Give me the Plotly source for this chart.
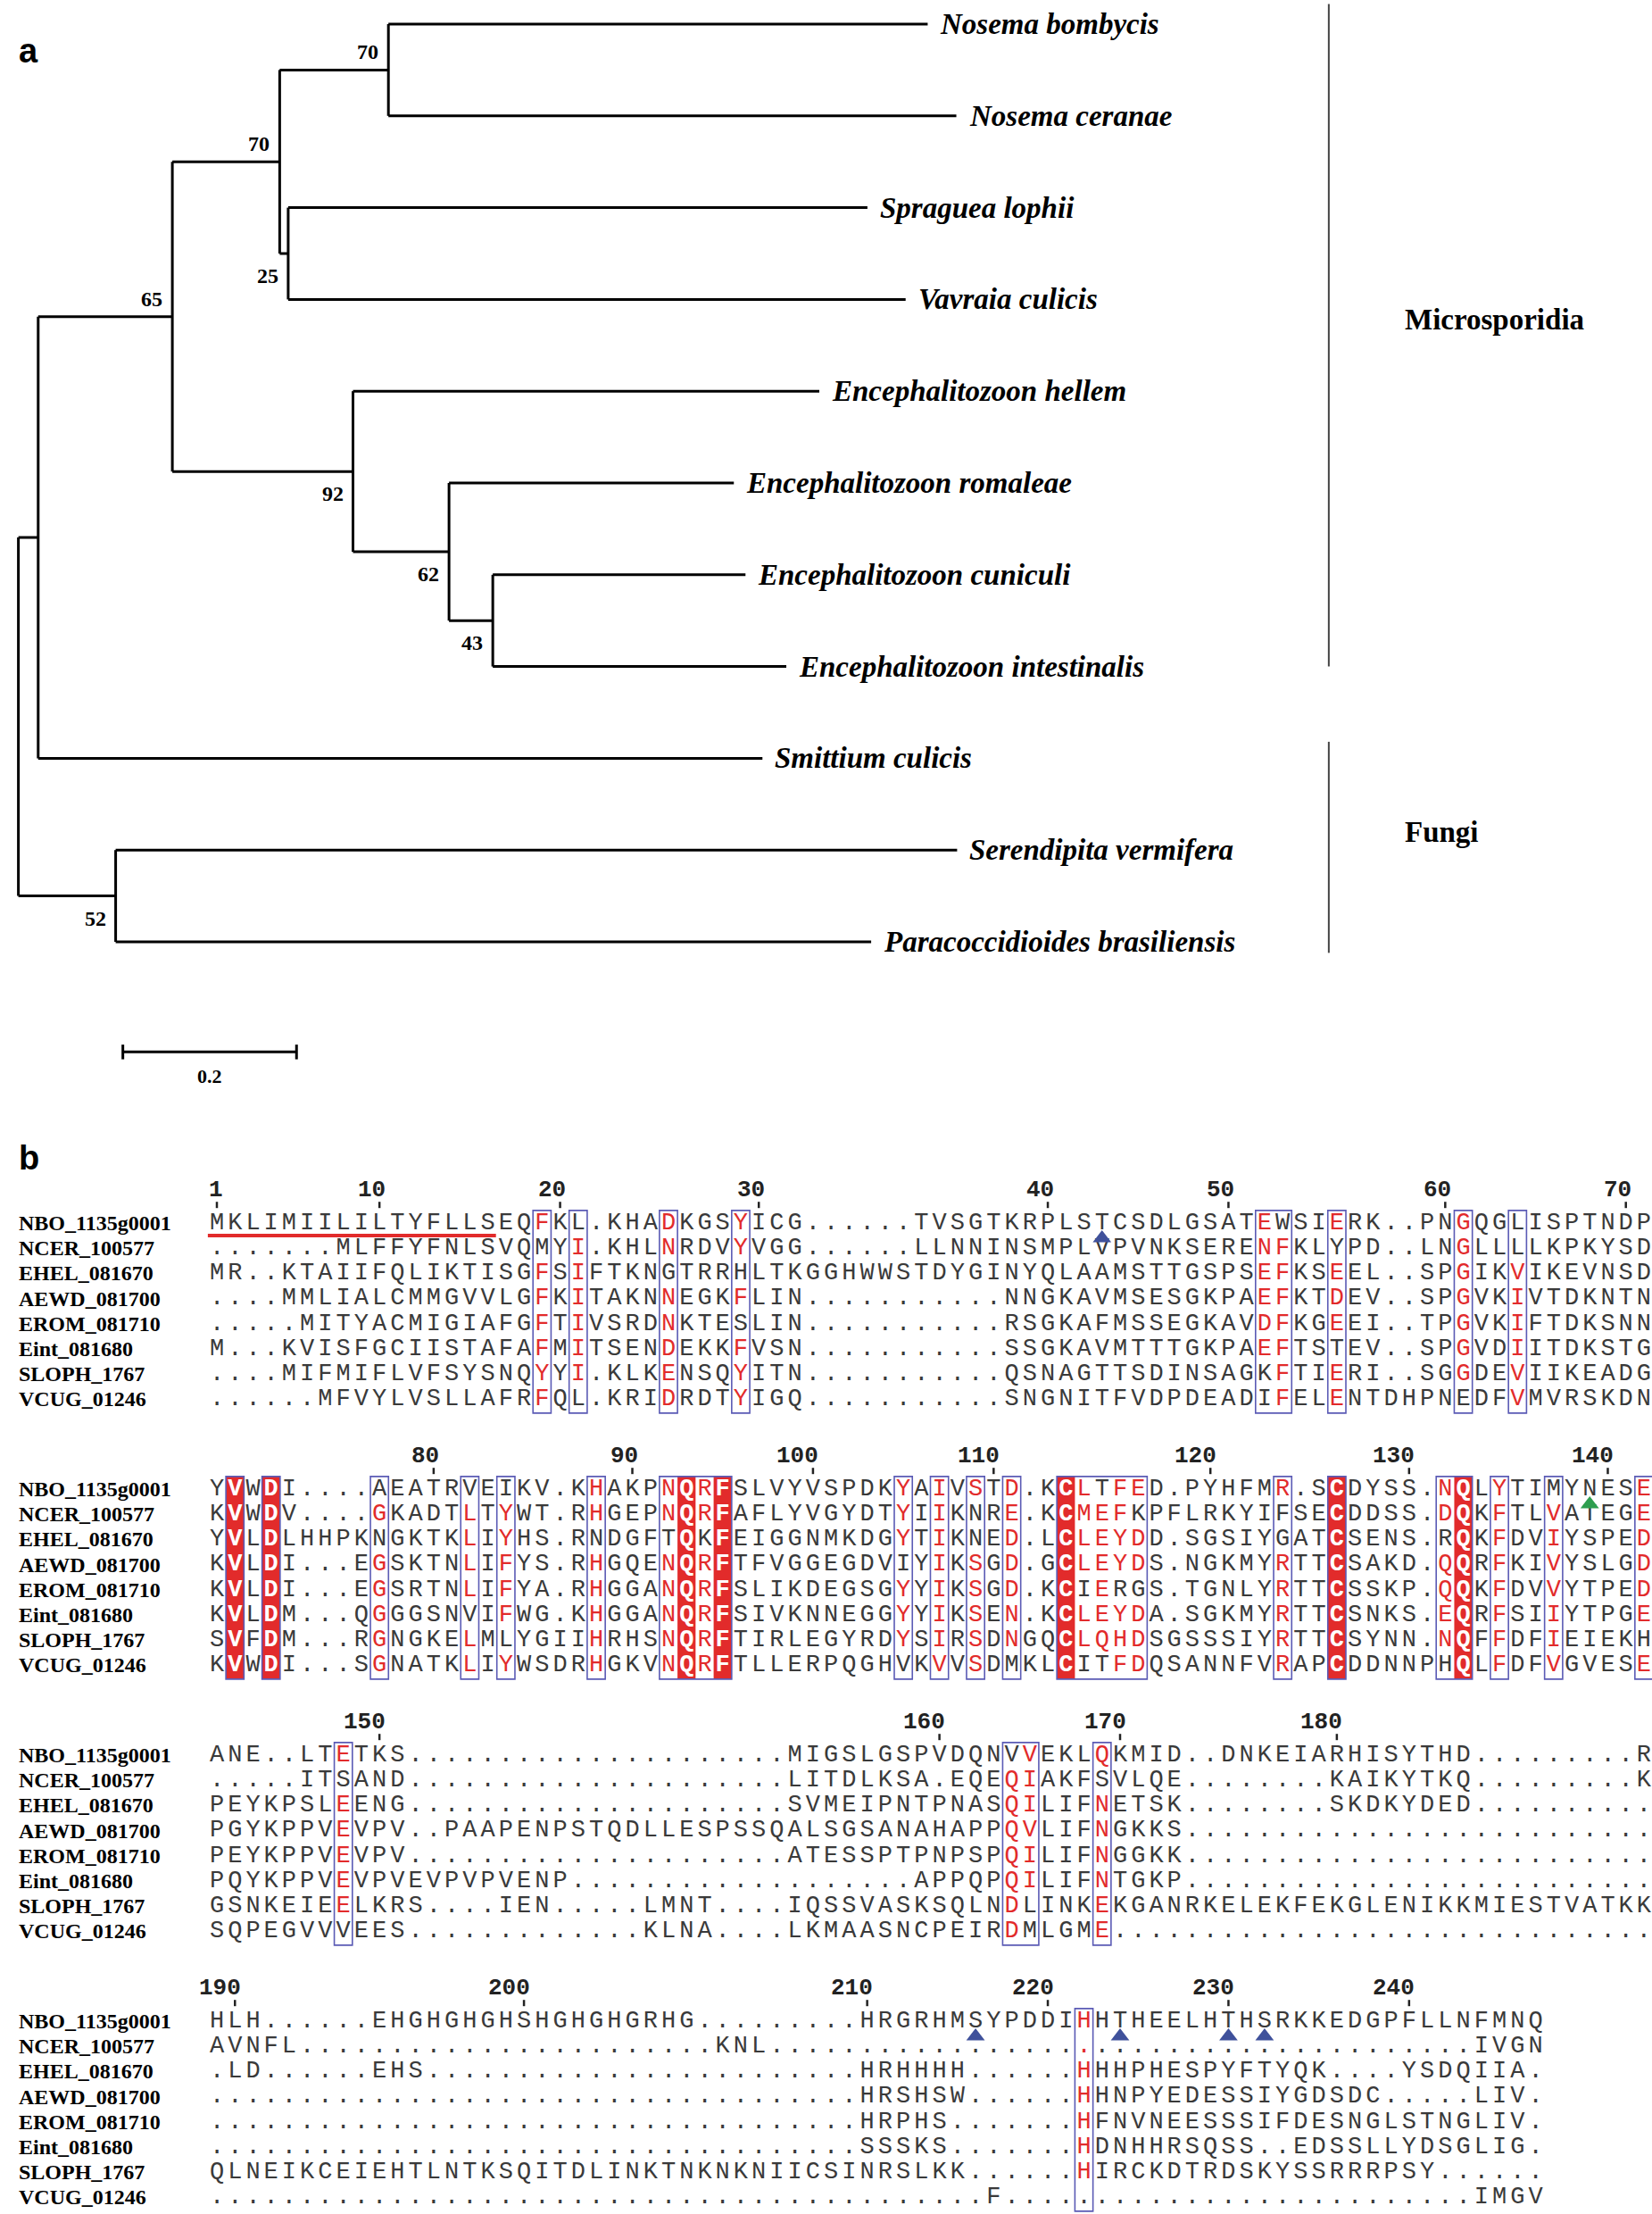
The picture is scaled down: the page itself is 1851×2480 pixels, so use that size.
import plotly.graph_objects as go

# ================= Panel a : phylogenetic tree (data) =================
NODE_IDS = ["root", "A", "micro", "upper", "nosema", "Nosema bombycis", "Nosema ceranae", "sv",
            "Spraguea lophii", "Vavraia culicis", "enc", "Encephalitozoon hellem", "n62",
            "Encephalitozoon romaleae", "n43", "Encephalitozoon cuniculi",
            "Encephalitozoon intestinalis", "Smittium culicis", "fungi",
            "Serendipita vermifera", "Paracoccidioides brasiliensis"]
NODE_PARENTS = [None, "root", "A", "micro", "upper", "nosema", "nosema", "upper", "sv", "sv",
                "micro", "enc", "enc", "n62", "n62", "n43", "n43", "A", "root", "fungi", "fungi"]
BRANCH_LENGTHS = [0.0, 0.0228, 0.1545, 0.1236, 0.1252, 0.621, 0.654, 0.0098, 0.667, 0.711,
                  0.208, 0.537, 0.1106, 0.328, 0.0504, 0.291, 0.338, 0.834, 0.112, 0.969, 0.870]
BOOTSTRAP = [None, None, 65, 70, 70, None, None, 25, None, None, 92, None, 62, None, 43,
             None, None, None, 52, None, None]
BOOT_ABOVE = [False, False, True, True, True, False, False, False, False, False, False, False,
              False, False, False, False, False, False, False, False, False]
LEAF_ORDER = ["Nosema bombycis", "Nosema ceranae", "Spraguea lophii", "Vavraia culicis",
              "Encephalitozoon hellem", "Encephalitozoon romaleae", "Encephalitozoon cuniculi",
              "Encephalitozoon intestinalis", "Smittium culicis", "Serendipita vermifera",
              "Paracoccidioides brasiliensis"]
CLADE_NAMES = ["Microsporidia", "Fungi"]
CLADE_TOP = [-0.22, 7.82]
CLADE_BOTTOM = [7.0, 10.12]
CLADE_X = 1.509
SCALE_LENGTH = 0.2
SCALE_LABEL = "0.2"

# ================= Panel b : alignment (data) =================
SEQ_NAMES = ["NBO_1135g0001", "NCER_100577", "EHEL_081670", "AEWD_081700",
             "EROM_081710", "Eint_081680", "SLOPH_1767", "VCUG_01246"]

BLOCK1 = [
    "MKLIMIILILTYFLLSEQFKL.KHADKGSYICG......TVSGTKRPLSTCSDLGSATEWSIERK..PNGQGLISPTNDP",
    ".......MLFFYFNLSVQMYI.KHLNRDVYVGG......LLNNINSMPLVPVNKSERENFKLYPD..LNGLLLLKPKYSD",
    "MR..KTAIIFQLIKTISGFSIFTKNGTRRHLTKGGHWWSTDYGINYQLAAMSTTGSPSEFKSEEL..SPGIKVIKEVNSD",
    "....MMLIALCMMGVVLGFKITAKNNEGKFLIN...........NNGKAVMSESGKPAEFKTDEV..SPGVKIVTDKNTN",
    ".....MITYACMIGIAFGFTIVSRDNKTESLIN...........RSGKAFMSSEGKAVDFKGEEI..TPGVKIFTDKSNN",
    "M...KVISFGCIISTAFAFMITSENDEKKFVSN...........SSGKAVMTTTGKPAEFTSTEV..SPGVDIITDKSTG",
    "....MIFMIFLVFSYSNQYYI.KLKENSQYITN...........QSNAGTTSDINSAGKFTIERI..SGGDEVIIKEADG",
    "......MFVYLVSLLAFRFQL.KRIDRDTYIGQ...........SNGNITFVDPDEADIFELENTDHPNEDFVMVRSKDN",
]
BLOCK2 = [
    "YVWDI....AEATRVEIKV.KHAKPNQRFSLVYVSPDKYAIVSTD.KCLTFED.PYHFMR.SCDYSS.NQLYTIMYNESE",
    "KVWDV....GKADTLTYWT.RHGEPNQRFAFLYVGYDTYIIKNRE.KCMEFKPFLRKYIFSECDDSS.DQKFTLVATEGE",
    "YVLDLHHPKNGKTKLIYHS.RNDGFTQKFEIGGNMKDGYTIKNED.LCLEYDD.SGSIYGATCSENS.RQKFDVIYSPED",
    "KVLDI...EGSKTNLIFYS.RHGQENQRFTFVGGEGDVIYIKSGD.GCLEYDS.NGKMYRTTCSAKD.QQRFKIVYSLGD",
    "KVLDI...EGSRTNLIFYA.RHGGANQRFSLIKDEGSGYYIKSGD.KCIERGS.TGNLYRTTCSSKP.QQKFDVVYTPED",
    "KVLDM...QGGGSNVIFWG.KHGGANQRFSIVKNNEGGYYIKSEN.KCLEYDA.SGKMYRTTCSNKS.EQRFSIIYTPGE",
    "SVFDM...RGNGKELMLYGIIHRHSNQRFTIRLEGYRDYSIRSDNGQCLQHDSGSSSIYRTTCSYNN.NQFFDFIEIEKH",
    "KVWDI...SGNATKLIYWSDRHGKVNQRFTLLERPQGHVKVVSDMKLCITFDQSANNFVRAPCDDNNPHQLFDFVGVESE",
]
BLOCK3 = [
    "ANE..LTETKS" + "." * 21 + "MIGSLGSPVDQNVVEKLQKMID..DNKEIARHISYTHD" + "." * 9 + "R",
    ".....ITSAND" + "." * 21 + "LITDLKSA.EQEQIAKFSVLQE" + "." * 8 + "KAIKYTKQ" + "." * 9 + "K",
    "PEYKPSLEENG" + "." * 21 + "SVMEIPNTPNASQILIFNETSK" + "." * 8 + "SKDKYDED" + "." * 10,
    "PGYKPPVEVPV..PAAPENPSTQDLLESPSSQALSGSANAHAPPQVLIFNGKKS" + "." * 26,
    "PEYKPPVEVPV" + "." * 21 + "ATESSPTPNPSPQILIFNGGKK" + "." * 26,
    "PQYKPPVEVPVEVPVPVENP" + "." * 19 + "APPQPQILIFNTGKP" + "." * 26,
    "GSNKEIEELKRS....IEN.....LMNT....IQSSVASKSQLNDLINKEKGANRKELEKFEKGLENIKKMIESTVATKK",
    "SQPEGVVVEES" + "." * 13 + "KLNA....LKMAASNCPEIRDMLGME" + "." * 30,
]
BLOCK4 = [
    "HLH......EHGHGHGHSHGHGHGRHG.........HRGRHMSYPDDIHHTHEELHTHSRKKEDGPFLLNFMNQ",
    "AVNFL" + "." * 23 + "KNL" + "." * 39 + "IVGN",
    ".LD......EHS" + "." * 24 + "HRHHHH......HHHPHESPYFTYQK....YSDQIIA.",
    "." * 36 + "HRSHSW......HHNPYEDESSIYGDSDC.....LIV.",
    "." * 36 + "HRPHS.......HFNVNEESSSIFDESNGLSTNGLIV.",
    "." * 36 + "SSSKS.......HDNHHRSQSS..EDSSLLYDSGLIG.",
    "QLNEIKCEIEHTLNTKSQITDLINKTNKNKNIICSINRSLKK......HIRCKDTRDSKYSSRRRPSY......",
    "." * 43 + "F" + "." * 26 + "IMGV",
]
BLOCKS = [BLOCK1, BLOCK2, BLOCK3, BLOCK4]

RULER_LABELS = [[1, 10, 20, 30, 40, 50, 60, 70],
                [80, 90, 100, 110, 120, 130, 140],
                [150, 160, 170, 180],
                [190, 200, 210, 220, 230, 240]]
RULER_COLS = [[1, 10, 20, 31, 47, 57, 69, 79],
              [13, 24, 34, 44, 56, 67, 78],
              [10, 41, 51, 63],
              [2, 18, 37, 47, 57, 67]]

# framed (similarity) column groups, per block
BOXES = [
    [(19, 19), (21, 21), (26, 26), (30, 30), (59, 60), (63, 63), (70, 70), (73, 73)],
    [(2, 2), (4, 4), (10, 10), (15, 15), (17, 17), (22, 22), (26, 29), (39, 39), (41, 41),
     (43, 43), (45, 45), (48, 52), (60, 60), (63, 63), (69, 70), (72, 72), (75, 75), (80, 80)],
    [(8, 8), (45, 46), (50, 50)],
    [(49, 49)],
]
# strictly conserved columns (red background, white letters)
IDENTICAL = [[], [2, 4, 27, 29, 48, 63, 70], [], []]
# similar residues written in red: column -> flags for the 8 sequences
SIMILAR = [
    {19: "10111111", 21: "01111110", 26: "11011111", 30: "11010111", 59: "11111100",
     60: "01111111", 63: "10111011", 70: "11111110", 73: "00111111"},
    {10: "01011111", 15: "01111011", 17: "01111101", 22: "11011111", 26: "11011111",
     28: "11011111", 39: "11101110", 41: "11111111", 43: "10011111", 45: "11111110",
     49: "11110110", 50: "01111110", 51: "11110111", 52: "10110111", 60: "10011111",
     69: "11011110", 72: "11111111", 75: "01111111", 80: "11111101"},
    {8: "10111110", 45: "01111111", 46: "11111100", 50: "10111111"},
    {49: "11111110"},
]
# signal peptide (underlined) : block, first col, last col
SIGNAL_BLOCK, SIGNAL_START, SIGNAL_END = 0, 1, 16
# site markers below NBO
MARK_BLOCK = [0, 1, 3, 3, 3, 3]
MARK_COL = [50, 77, 43, 51, 57, 59]
MARK_KIND = ["blue", "green", "blue", "blue", "blue", "blue"]

# ================= geometry / style =================
W, H = 1851, 2480
TREE_SPLIT = 1240                  # pixel row separating the two panels
TREE_ROOT_PX, TREE_UNIT_PX = 20.6, 973.0
LEAF0_PX, LEAF_STEP_PX = 27.0, 102.8
COL1_PX, COL_PX = 243.0, 20.24
ROW0_PX, ROW_PX = 1370.0, 28.2
BLOCK_PERIOD = 298.0 / ROW_PX

RED = "#e22b2b"
TEXT = "#3a3a3a"
BOXC = "#5b5bb5"
MARK_COLORS = {"blue": "#3f519b", "green": "#2e9e4f"}
SERIF = "Liberation Serif, Times New Roman, serif"
MONO = "Liberation Mono, Courier New, monospace"
SEQ_FONT_SIZE = 27

fig = go.Figure()

# ---------- tree computation ----------
parent = dict(zip(NODE_IDS, NODE_PARENTS))
blen = dict(zip(NODE_IDS, BRANCH_LENGTHS))
children = {n: [] for n in NODE_IDS}
for n, p in zip(NODE_IDS, NODE_PARENTS):
    if p is not None:
        children[p].append(n)
xpos = {}
for n in NODE_IDS:
    xpos[n] = (xpos[parent[n]] if parent[n] else 0.0) + blen[n]
ypos = {}


def node_y(n):
    if n in ypos:
        return ypos[n]
    if not children[n]:
        ypos[n] = float(LEAF_ORDER.index(n))
    else:
        ys = [node_y(c) for c in children[n]]
        ypos[n] = (min(ys) + max(ys)) / 2.0
    return ypos[n]


for n in NODE_IDS:
    node_y(n)

lx, ly = [], []
for n in NODE_IDS:
    p = parent[n]
    if p is not None:
        lx += [xpos[p], xpos[n], None]
        ly += [ypos[n], ypos[n], None]
    if children[n]:
        cy = [ypos[c] for c in children[n]]
        lx += [xpos[n], xpos[n], None]
        ly += [min(cy), max(cy), None]
fig.add_trace(go.Scatter(x=lx, y=ly, mode="lines", line=dict(color="black", width=3),
                         hoverinfo="skip", xaxis="x", yaxis="y"))

annotations = []
for n in NODE_IDS:
    if not children[n]:
        annotations.append(dict(x=xpos[n], y=ypos[n], xref="x", yref="y", text=n,
                                showarrow=False, xanchor="left", yanchor="middle", xshift=12,
                                font=dict(family=SERIF, size=33, color="black",
                                          style="italic", weight="bold")))
for n, bs, above in zip(NODE_IDS, BOOTSTRAP, BOOT_ABOVE):
    if bs is None:
        continue
    annotations.append(dict(x=xpos[n], y=ypos[n], xref="x", yref="y", text=str(bs),
                            showarrow=False, xanchor="right", yanchor="middle", xshift=-9,
                            yshift=20 if above else -25,
                            font=dict(family=SERIF, size=24, color="black", weight="bold")))

# clade brackets
bx, by = [], []
for top, bot in zip(CLADE_TOP, CLADE_BOTTOM):
    bx += [CLADE_X, CLADE_X, None]
    by += [top, bot, None]
fig.add_trace(go.Scatter(x=bx, y=by, mode="lines", line=dict(color="#444444", width=2),
                         hoverinfo="skip", xaxis="x", yaxis="y"))
for name, top, bot in zip(CLADE_NAMES, CLADE_TOP, CLADE_BOTTOM):
    annotations.append(dict(x=CLADE_X, y=(top + bot) / 2, xref="x", yref="y", text=name,
                            showarrow=False, xanchor="left", yanchor="middle", xshift=83,
                            yshift=17,
                            font=dict(family=SERIF, size=33, color="black", weight="bold")))

# scale bar
sx0, sy = 0.1203, 11.2
fig.add_trace(go.Scatter(
    x=[sx0, sx0 + SCALE_LENGTH, None, sx0, sx0, None, sx0 + SCALE_LENGTH, sx0 + SCALE_LENGTH],
    y=[sy, sy, None, sy - 0.08, sy + 0.08, None, sy - 0.08, sy + 0.08],
    mode="lines", line=dict(color="black", width=3), hoverinfo="skip", xaxis="x", yaxis="y"))
annotations.append(dict(x=sx0 + SCALE_LENGTH / 2, y=sy, xref="x", yref="y", text=SCALE_LABEL,
                        showarrow=False, yshift=-27,
                        font=dict(family=SERIF, size=22, color="black", weight="bold")))

# ---------- alignment ----------
shapes = []
groups = {"normal": ([], [], []), "red": ([], [], []), "white": ([], [], [])}
for b, rows in enumerate(BLOCKS):
    base = b * BLOCK_PERIOD
    nrow = len(rows)
    for r, seq in enumerate(rows):
        for i, ch in enumerate(seq):
            col = i + 1
            if col in IDENTICAL[b]:
                key = "white"
            elif col in SIMILAR[b] and SIMILAR[b][col][r] == "1":
                key = "red"
            else:
                key = "normal"
            gx, gy, gt = groups[key]
            gx.append(col)
            gy.append(base + r)
            gt.append(ch)
    for col in IDENTICAL[b]:
        shapes.append(dict(type="rect", xref="x2", yref="y2", x0=col - 0.5, x1=col + 0.5,
                           y0=base - 0.5, y1=base + nrow - 0.45, fillcolor=RED,
                           line=dict(width=0), layer="below"))
    for c0, c1 in BOXES[b]:
        shapes.append(dict(type="rect", xref="x2", yref="y2", x0=c0 - 0.5, x1=c1 + 0.5,
                           y0=base - 0.5, y1=base + nrow - 0.45, fillcolor="rgba(0,0,0,0)",
                           line=dict(color=BOXC, width=1.6), layer="above"))
    # ruler
    fig.add_trace(go.Scatter(x=RULER_COLS[b], y=[base - 0.72] * len(RULER_COLS[b]),
                             mode="markers", hoverinfo="skip", cliponaxis=False,
                             marker=dict(symbol="line-ns", size=5,
                                         line=dict(color="#222222", width=2.5)),
                             xaxis="x2", yaxis="y2"))
    for lab, col in zip(RULER_LABELS[b], RULER_COLS[b]):
        annotations.append(dict(x=col + 0.42, y=base - 1.3, xref="x2", yref="y2", text=str(lab),
                                showarrow=False, xanchor="right", yanchor="middle",
                                font=dict(family=MONO, size=26, color="#222222", weight="bold")))
    for r, name in enumerate(SEQ_NAMES):
        annotations.append(dict(x=19 / W, y=base + r, xref="paper", yref="y2", text=name,
                                showarrow=False, xanchor="left", yanchor="middle",
                                font=dict(family=SERIF, size=24, color="black", weight="bold")))

colors = {"normal": TEXT, "red": RED, "white": "white"}
for key, (gx, gy, gt) in groups.items():
    fig.add_trace(go.Scatter(x=gx, y=gy, text=gt, mode="text", hoverinfo="skip",
                             textposition="middle center", cliponaxis=False,
                             textfont=dict(family=MONO, size=SEQ_FONT_SIZE, color=colors[key],
                                           weight="bold" if key == "white" else "normal"),
                             xaxis="x2", yaxis="y2"))

# signal peptide underline
sb = SIGNAL_BLOCK * BLOCK_PERIOD
fig.add_trace(go.Scatter(x=[SIGNAL_START - 0.5, SIGNAL_END + 0.45], y=[sb + 0.5, sb + 0.5],
                         mode="lines", line=dict(color=RED, width=4), hoverinfo="skip",
                         xaxis="x2", yaxis="y2"))
# site markers
for kind in ["blue", "green"]:
    mx = [c for c, k in zip(MARK_COL, MARK_KIND) if k == kind]
    my = [b * BLOCK_PERIOD + 0.6 for b, k in zip(MARK_BLOCK, MARK_KIND) if k == kind]
    fig.add_trace(go.Scatter(x=mx, y=my, mode="markers", hoverinfo="skip", cliponaxis=False,
                             marker=dict(symbol="triangle-up", size=18,
                                         color=MARK_COLORS[kind]),
                             xaxis="x2", yaxis="y2"))

# panel letters
annotations.append(dict(x=32 / W, y=1 - 57 / H, xref="paper", yref="paper", text="a",
                        showarrow=False, xanchor="center", yanchor="middle",
                        font=dict(family="Liberation Sans, Arial", size=38, color="black",
                                  weight="bold")))
annotations.append(dict(x=32 / W, y=1 - 1297 / H, xref="paper", yref="paper", text="b",
                        showarrow=False, xanchor="center", yanchor="middle",
                        font=dict(family="Liberation Sans, Arial", size=38, color="black",
                                  weight="bold")))

# ---------- axes ----------
tree_frac = TREE_SPLIT / H
y_tree_top = -LEAF0_PX / LEAF_STEP_PX
y_tree_bot = (TREE_SPLIT - LEAF0_PX) / LEAF_STEP_PX
x_tree = [-TREE_ROOT_PX / TREE_UNIT_PX, (W - TREE_ROOT_PX) / TREE_UNIT_PX]
x_aln = [1 - COL1_PX / COL_PX, 1 + (W - COL1_PX) / COL_PX]
y_aln_top = (TREE_SPLIT - ROW0_PX) / ROW_PX
y_aln_bot = (H - ROW0_PX) / ROW_PX

hidden = dict(visible=False, showgrid=False, zeroline=False, fixedrange=True)
fig.update_layout(
    width=W, height=H, margin=dict(l=0, r=0, t=0, b=0),
    paper_bgcolor="white", plot_bgcolor="white", showlegend=False,
    xaxis=dict(domain=[0, 1], range=x_tree, anchor="y", **hidden),
    yaxis=dict(domain=[1 - tree_frac, 1], range=[y_tree_bot, y_tree_top], anchor="x", **hidden),
    xaxis2=dict(domain=[0, 1], range=x_aln, anchor="y2", **hidden),
    yaxis2=dict(domain=[0, 1 - tree_frac], range=[y_aln_bot, y_aln_top], anchor="x2", **hidden),
    shapes=shapes, annotations=annotations,
)

fig.write_html("out.html", config={"displayModeBar": False},
               post_script="document.body.style.margin='0';document.body.style.padding='0';"
                           "document.body.style.overflow='hidden';")
